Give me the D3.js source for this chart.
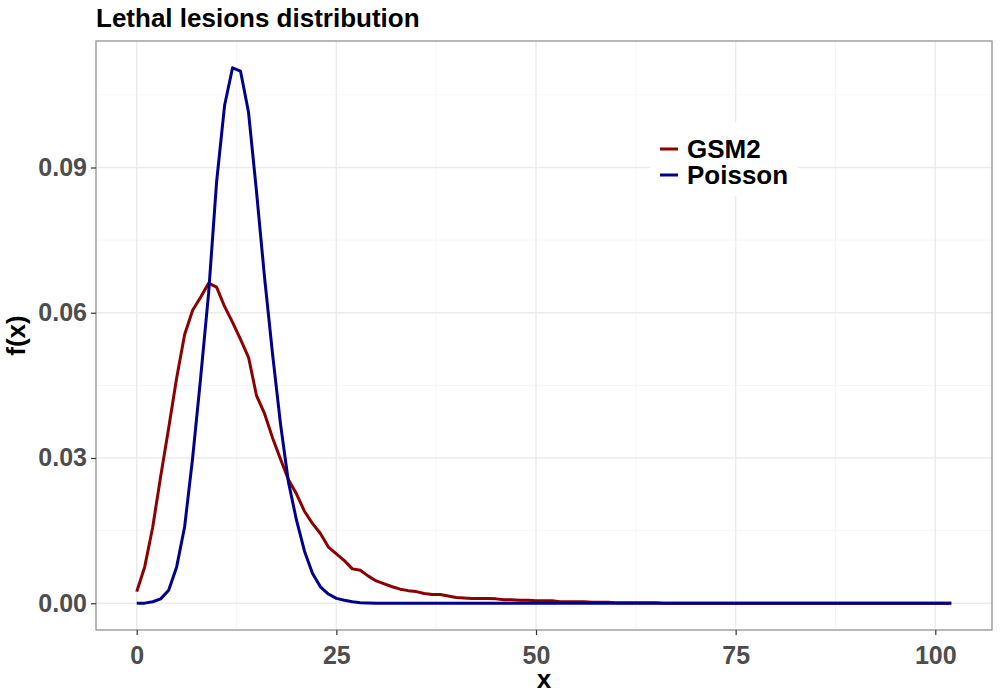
<!DOCTYPE html>
<html>
<head>
<meta charset="utf-8">
<script src="https://cdn.jsdelivr.net/npm/d3@7/dist/d3.min.js"></script>
<style>
  body { margin: 0; background: #fff; }
  svg { font-family: "Liberation Sans", Arial, sans-serif; display: block; }
</style>
</head>
<body>
<script>
// values, one per integer x = 0..102
const gsm2 = [
  0.0024, 0.0075, 0.0157, 0.0262, 0.0362, 0.0465, 0.0555, 0.0605, 0.0632, 0.0661,
  0.0653, 0.0613, 0.0580, 0.0545, 0.0508, 0.0429, 0.0392, 0.0342, 0.0298, 0.0255,
  0.0226, 0.0190, 0.0165, 0.0144, 0.0116, 0.0102, 0.0088, 0.0071, 0.0068, 0.0056,
  0.0046, 0.0040, 0.0034, 0.0029, 0.0026, 0.0024, 0.0020, 0.0018, 0.0018, 0.0015,
  0.0012, 0.0011, 0.0010, 0.0010, 0.0010, 0.0009, 0.0007, 0.0007, 0.0006, 0.0006,
  0.0005, 0.0005, 0.0005, 0.0003, 0.0003, 0.0003, 0.0003, 0.0002, 0.0002, 0.0002,
  0.0001, 0.0001, 0.0001, 0.0001, 0.0001, 0.0001, 0, 0, 0, 0,
  0, 0, 0, 0, 0, 0, 0, 0, 0, 0,
  0, 0, 0, 0, 0, 0, 0, 0, 0, 0,
  0, 0, 0, 0, 0, 0, 0, 0, 0, 0,
  0, 0, 0
];
const poisson = [
  0.0000, 0.00002, 0.0003, 0.0009, 0.0027, 0.0075, 0.0158, 0.0300, 0.0465, 0.0640,
  0.0870, 0.1028, 0.1106, 0.1099, 0.1014, 0.0850, 0.0674, 0.0516, 0.0371, 0.0250,
  0.0172, 0.0108, 0.0062, 0.0034, 0.0019, 0.0010, 0.0006, 0.0003, 0.0001, 0.00005,
  0, 0, 0, 0, 0, 0, 0, 0, 0, 0,
  0, 0, 0, 0, 0, 0, 0, 0, 0, 0,
  0, 0, 0, 0, 0, 0, 0, 0, 0, 0,
  0, 0, 0, 0, 0, 0, 0, 0, 0, 0,
  0, 0, 0, 0, 0, 0, 0, 0, 0, 0,
  0, 0, 0, 0, 0, 0, 0, 0, 0, 0,
  0, 0, 0, 0, 0, 0, 0, 0, 0, 0,
  0, 0, 0
];
const seriesNames = ["GSM2", "Poisson"];
const seriesColors = ["#8b0000", "#00008b"];
const xTicks = [0, 25, 50, 75, 100];
const xMinor = [12.5, 37.5, 62.5, 87.5];
const yTicks = [0, 0.03, 0.06, 0.09];
const yMinor = [0.015, 0.045, 0.075, 0.105];

const W = 1000, H = 700;
const pLeft = 96, pRight = 992, pTop = 41, pBottom = 630;

const svg = d3.select("body").append("svg").attr("width", W).attr("height", H);

const xMax = gsm2.length - 1;
const yMax = d3.max(poisson.concat(gsm2));
const xPad = xMax * 0.05, yPad = yMax * 0.05;

const x = d3.scaleLinear().domain([-xPad, xMax + xPad]).range([pLeft, pRight]);
const y = d3.scaleLinear().domain([-yPad, yMax + yPad]).range([pBottom, pTop]);

// grid
const grid = svg.append("g");
grid.selectAll(".xminor").data(xMinor).enter().append("line")
  .attr("x1", d => x(d)).attr("x2", d => x(d)).attr("y1", pTop).attr("y2", pBottom)
  .attr("stroke", "#f2f2f2").attr("stroke-width", 0.8);
grid.selectAll(".yminor").data(yMinor).enter().append("line")
  .attr("y1", d => y(d)).attr("y2", d => y(d)).attr("x1", pLeft).attr("x2", pRight)
  .attr("stroke", "#f2f2f2").attr("stroke-width", 0.8);
grid.selectAll(".xmajor").data(xTicks).enter().append("line")
  .attr("x1", d => x(d)).attr("x2", d => x(d)).attr("y1", pTop).attr("y2", pBottom)
  .attr("stroke", "#ebebeb").attr("stroke-width", 1.4);
grid.selectAll(".ymajor").data(yTicks).enter().append("line")
  .attr("y1", d => y(d)).attr("y2", d => y(d)).attr("x1", pLeft).attr("x2", pRight)
  .attr("stroke", "#ebebeb").attr("stroke-width", 1.4);

// lines
const line = d3.line().x((d, i) => x(i)).y(d => y(d));
[gsm2, poisson].forEach((s, k) => {
  svg.append("path").datum(s)
    .attr("d", line)
    .attr("fill", "none")
    .attr("stroke", seriesColors[k])
    .attr("stroke-width", 3)
    .attr("stroke-linejoin", "round");
});

// panel border
svg.append("rect")
  .attr("x", pLeft).attr("y", pTop).attr("width", pRight - pLeft).attr("height", pBottom - pTop)
  .attr("fill", "none").attr("stroke", "#8a8a8a").attr("stroke-width", 1.2);

// axes
const xAxis = svg.append("g").attr("transform", `translate(0,${pBottom})`)
  .call(d3.axisBottom(x).tickValues(xTicks).tickSize(5).tickPadding(5).tickFormat(d3.format("d")));
const yAxis = svg.append("g").attr("transform", `translate(${pLeft},0)`)
  .call(d3.axisLeft(y).tickValues(yTicks).tickSize(5).tickPadding(4).tickFormat(d3.format(".2f")));
[xAxis, yAxis].forEach(a => {
  a.select(".domain").remove();
  a.selectAll(".tick line").attr("stroke", "#333").attr("stroke-width", 1.2);
  a.selectAll(".tick text")
    .attr("fill", "#4d4d4d")
    .style("font-size", "25px")
    .style("font-weight", "bold")
    .style("font-family", "'Liberation Sans', Arial, sans-serif");
});
xAxis.selectAll(".tick text").attr("dy", "0.95em");

// titles
svg.append("text").attr("x", 96).attr("y", 27)
  .style("font-size", "26px").style("font-weight", "bold")
  .text("Lethal lesions distribution");
svg.append("text").attr("x", (pLeft + pRight) / 2).attr("y", 688)
  .attr("text-anchor", "middle")
  .style("font-size", "26px").style("font-weight", "bold")
  .text("x");
svg.append("text")
  .attr("transform", `translate(25,${(pTop + pBottom) / 2}) rotate(-90)`)
  .attr("text-anchor", "middle")
  .style("font-size", "26px").style("font-weight", "bold")
  .text("f(x)");

// legend
const lg = svg.append("g").attr("transform", "translate(650,122)");
lg.append("rect").attr("width", 148).attr("height", 74).attr("fill", "#fff");
seriesNames.forEach((n, i) => {
  lg.append("line")
    .attr("x1", 10).attr("x2", 28)
    .attr("y1", 27 + i * 26).attr("y2", 27 + i * 26)
    .attr("stroke", seriesColors[i]).attr("stroke-width", 3);
  lg.append("text")
    .attr("x", 37).attr("y", 36 + i * 26)
    .style("font-size", "26px").style("font-weight", "bold")
    .text(n);
});
</script>
</body>
</html>
